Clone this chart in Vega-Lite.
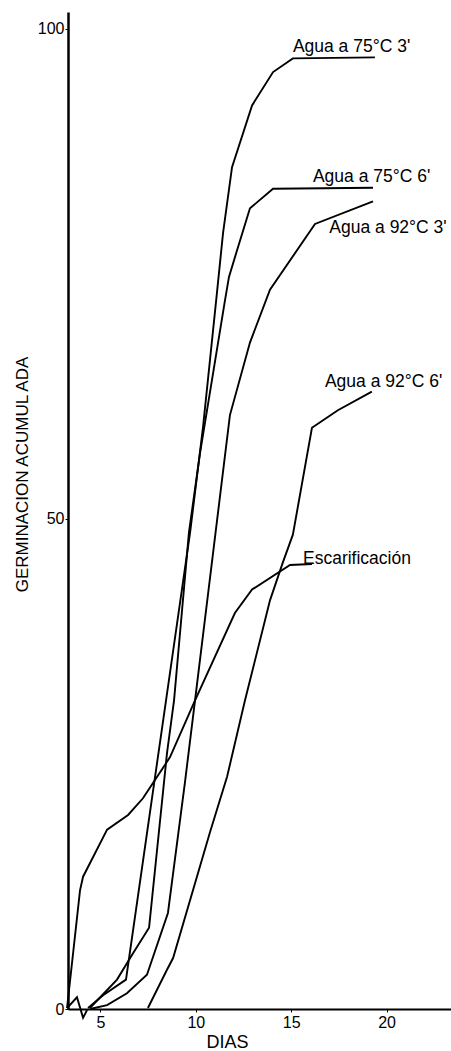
{
  "$schema": "https://vega.github.io/schema/vega-lite/v6.json",
  "autosize": {"type": "none"},
  "padding": {"left": 68, "top": 12, "right": 0, "bottom": 42},
  "width": 383,
  "height": 997,
  "background": "white",
  "config": {
    "view": {"stroke": null},
    "font": "Liberation Sans",
    "axis": {"grid": false, "domainColor": "black", "tickColor": "black", "labelColor": "black", "titleColor": "black", "labelFont": "Liberation Sans", "titleFont": "Liberation Sans", "titleFontWeight": "normal"}
  },
  "datasets": {
    "curvas": [
      {"serie": "Agua a 75°C 3'", "dia": 4.35, "germ": 0.1},
      {"serie": "Agua a 75°C 3'", "dia": 5.14, "germ": 1.4},
      {"serie": "Agua a 75°C 3'", "dia": 6.34, "germ": 3.0},
      {"serie": "Agua a 75°C 3'", "dia": 8.44, "germ": 31.5},
      {"serie": "Agua a 75°C 3'", "dia": 9.70, "germ": 48.6},
      {"serie": "Agua a 75°C 3'", "dia": 10.38, "germ": 59.4},
      {"serie": "Agua a 75°C 3'", "dia": 11.11, "germ": 73.1},
      {"serie": "Agua a 75°C 3'", "dia": 11.43, "germ": 79.2},
      {"serie": "Agua a 75°C 3'", "dia": 11.90, "germ": 85.9},
      {"serie": "Agua a 75°C 3'", "dia": 12.95, "germ": 92.2},
      {"serie": "Agua a 75°C 3'", "dia": 14.05, "germ": 95.6},
      {"serie": "Agua a 75°C 3'", "dia": 15.09, "germ": 97.0},
      {"serie": "Agua a 75°C 3'", "dia": 19.39, "germ": 97.1},
      {"serie": "Agua a 75°C 6'", "dia": 4.45, "germ": 0.1},
      {"serie": "Agua a 75°C 6'", "dia": 5.87, "germ": 3.0},
      {"serie": "Agua a 75°C 6'", "dia": 6.71, "germ": 5.7},
      {"serie": "Agua a 75°C 6'", "dia": 7.55, "germ": 8.3},
      {"serie": "Agua a 75°C 6'", "dia": 8.49, "germ": 26.1},
      {"serie": "Agua a 75°C 6'", "dia": 8.86, "germ": 31.5},
      {"serie": "Agua a 75°C 6'", "dia": 9.64, "germ": 48.6},
      {"serie": "Agua a 75°C 6'", "dia": 10.22, "germ": 56.7},
      {"serie": "Agua a 75°C 6'", "dia": 11.53, "germ": 72.3},
      {"serie": "Agua a 75°C 6'", "dia": 11.74, "germ": 74.7},
      {"serie": "Agua a 75°C 6'", "dia": 12.16, "germ": 77.4},
      {"serie": "Agua a 75°C 6'", "dia": 12.84, "germ": 81.7},
      {"serie": "Agua a 75°C 6'", "dia": 14.05, "germ": 83.7},
      {"serie": "Agua a 75°C 6'", "dia": 19.29, "germ": 83.8},
      {"serie": "Agua a 92°C 3'", "dia": 4.45, "germ": 0.0},
      {"serie": "Agua a 92°C 3'", "dia": 5.35, "germ": 0.4},
      {"serie": "Agua a 92°C 3'", "dia": 6.39, "germ": 1.6},
      {"serie": "Agua a 92°C 3'", "dia": 7.44, "germ": 3.5},
      {"serie": "Agua a 92°C 3'", "dia": 8.54, "germ": 9.8},
      {"serie": "Agua a 92°C 3'", "dia": 9.43, "germ": 23.1},
      {"serie": "Agua a 92°C 3'", "dia": 9.96, "germ": 31.5},
      {"serie": "Agua a 92°C 3'", "dia": 11.79, "germ": 60.6},
      {"serie": "Agua a 92°C 3'", "dia": 12.84, "germ": 68.0},
      {"serie": "Agua a 92°C 3'", "dia": 13.89, "germ": 73.4},
      {"serie": "Agua a 92°C 3'", "dia": 16.25, "germ": 80.1},
      {"serie": "Agua a 92°C 3'", "dia": 19.29, "germ": 82.4},
      {"serie": "Agua a 92°C 6'", "dia": 7.49, "germ": 0.1},
      {"serie": "Agua a 92°C 6'", "dia": 8.49, "germ": 4.0},
      {"serie": "Agua a 92°C 6'", "dia": 8.81, "germ": 5.2},
      {"serie": "Agua a 92°C 6'", "dia": 10.74, "germ": 18.0},
      {"serie": "Agua a 92°C 6'", "dia": 11.64, "germ": 23.7},
      {"serie": "Agua a 92°C 6'", "dia": 12.58, "germ": 31.5},
      {"serie": "Agua a 92°C 6'", "dia": 13.89, "germ": 41.7},
      {"serie": "Agua a 92°C 6'", "dia": 14.57, "germ": 45.6},
      {"serie": "Agua a 92°C 6'", "dia": 15.09, "germ": 48.4},
      {"serie": "Agua a 92°C 6'", "dia": 16.09, "germ": 59.3},
      {"serie": "Agua a 92°C 6'", "dia": 17.45, "germ": 61.1},
      {"serie": "Agua a 92°C 6'", "dia": 19.23, "germ": 63.0},
      {"serie": "Escarificación", "dia": 3.25, "germ": 0.1},
      {"serie": "Escarificación", "dia": 3.93, "germ": 12.1},
      {"serie": "Escarificación", "dia": 4.09, "germ": 13.5},
      {"serie": "Escarificación", "dia": 5.35, "germ": 18.3},
      {"serie": "Escarificación", "dia": 6.45, "germ": 19.8},
      {"serie": "Escarificación", "dia": 7.23, "germ": 21.5},
      {"serie": "Escarificación", "dia": 8.65, "germ": 25.7},
      {"serie": "Escarificación", "dia": 9.96, "germ": 31.5},
      {"serie": "Escarificación", "dia": 12.05, "germ": 40.4},
      {"serie": "Escarificación", "dia": 12.95, "germ": 42.8},
      {"serie": "Escarificación", "dia": 14.94, "germ": 45.3},
      {"serie": "Escarificación", "dia": 16.09, "germ": 45.4},
      {"serie": "corte", "dia": 3.25, "germ": 0.1},
      {"serie": "corte", "dia": 3.77, "germ": 1.2},
      {"serie": "corte", "dia": 4.09, "germ": -0.9},
      {"serie": "corte", "dia": 4.30, "germ": -0.1}
    ],
    "etiquetas": [
      {"texto": "Agua a 75°C 3'", "dia": 15.09, "germ": 97.65},
      {"texto": "Agua a 75°C 6'", "dia": 16.14, "germ": 84.4},
      {"texto": "Agua a 92°C 3'", "dia": 17.0, "germ": 79.2},
      {"texto": "Agua a 92°C 6'", "dia": 16.77, "germ": 63.5},
      {"texto": "Escarificación", "dia": 15.62, "germ": 45.4}
    ]
  },
  "layer": [
    {
      "data": {"name": "curvas"},
      "mark": {"type": "line", "color": "black", "strokeWidth": 1.9, "clip": false},
      "encoding": {
        "x": {"field": "dia", "type": "quantitative", "scale": {"domain": [3.3, 23.38], "nice": false, "zero": false},
          "axis": {"values": [5, 10, 15, 20], "title": "DIAS", "labelFontSize": 16, "tickSize": 3, "labelPadding": 2, "domainWidth": 2, "titleFontSize": 18, "titleX": 159, "titleY": 33, "titleBaseline": "middle"}},
        "y": {"field": "germ", "type": "quantitative", "scale": {"domain": [0, 101.73], "nice": false},
          "axis": {"values": [0, 50, 100], "title": "GERMINACION ACUMUL ADA", "labelFontSize": 16, "tickSize": 3, "labelPadding": 1, "domainWidth": 2.5, "titleFontSize": 17, "titleX": -41, "titleY": 462, "titleBaseline": "alphabetic", "titleAngle": 270}},
        "detail": {"field": "serie", "type": "nominal"}
      }
    },
    {
      "data": {"name": "etiquetas"},
      "mark": {"type": "text", "align": "left", "baseline": "alphabetic", "fontSize": 17.5, "font": "Liberation Sans", "color": "black"},
      "encoding": {
        "x": {"field": "dia", "type": "quantitative"},
        "y": {"field": "germ", "type": "quantitative"},
        "text": {"field": "texto"}
      }
    }
  ]
}
